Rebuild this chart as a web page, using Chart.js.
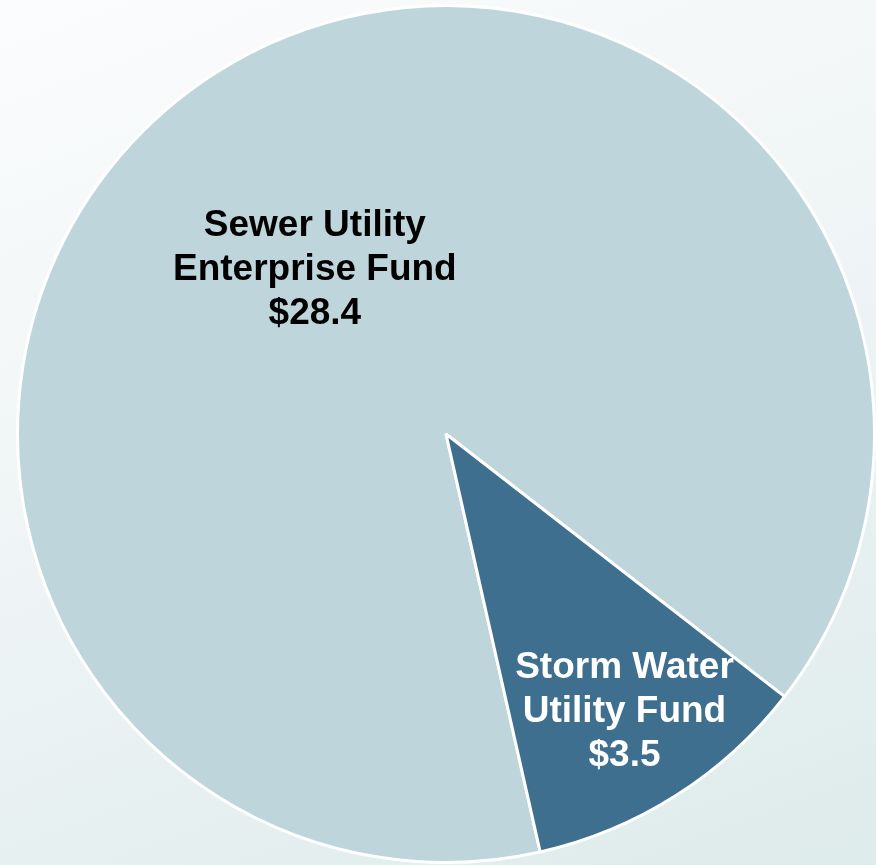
<head>
  <style>
    html,
    body {
      margin: 0;
      height: 100%;
      overflow: hidden;
    }
    body {
      background: linear-gradient(160deg, #fbfcfd 0%, #eef4f5 50%, #deebeb 100%);
    }
  </style>
</head>
<body>
  <div class="chart-container" style="position: relative; width: 876px; height: 865px">
    <canvas id="chart1"></canvas>
  </div>
</body>
<script src="https://cdn.jsdelivr.net/npm/chart.js@4"></script>
<script>
  const funds = ['Sewer Utility|Enterprise Fund', 'Storm Water|Utility Fund']
  const amounts = [28.4, 3.5]
  const sliceColors = ['#bed6db', '#3e6f8e']
  const labelColors = ['#000000', '#ffffff']

  // where each label sits: fraction of radius, plus angle nudge (deg)
  const labelSpots = [
    { r: 0.49, nudge: -6.2 },
    { r: 0.77, nudge: -0.3 }
  ]

  const sliceLabels = {
    id: 'sliceLabels',
    afterDatasetsDraw(chart) {
      const ctx = chart.ctx
      const arcs = chart.getDatasetMeta(0).data
      ctx.save()
      ctx.font = 'bold 37px "Liberation Sans", Arial, sans-serif'
      ctx.textAlign = 'center'
      ctx.textBaseline = 'middle'
      arcs.forEach((arc, i) => {
        const p = arc.getProps(['x', 'y', 'startAngle', 'endAngle', 'outerRadius'], true)
        const mid = (p.startAngle + p.endAngle) / 2 + labelSpots[i].nudge * Math.PI / 180
        const rr = p.outerRadius * labelSpots[i].r
        const cx = p.x + Math.cos(mid) * rr
        const cy = p.y + Math.sin(mid) * rr
        const lines = funds[i].split('|').concat('$' + amounts[i].toFixed(1))
        ctx.fillStyle = labelColors[i]
        lines.forEach((ln, k) => {
          ctx.fillText(ln, cx, cy + (k - 1) * 44)
        })
      })
      ctx.restore()
    }
  }

  new Chart(document.getElementById('chart1'), {
    type: 'pie',
    data: {
      labels: funds.map(f => f.replace('|', ' ')),
      datasets: [
        {
          data: amounts,
          backgroundColor: sliceColors,
          borderColor: '#ffffff',
          borderWidth: 3
        }
      ]
    },
    options: {
      responsive: true,
      maintainAspectRatio: false,
      animation: false,
      events: [],
      rotation: 167.3,
      layout: {
        padding: { left: 16, right: 0, top: 4, bottom: 1 }
      },
      plugins: {
        legend: { display: false },
        tooltip: { enabled: false }
      }
    },
    plugins: [sliceLabels]
  })
</script>
